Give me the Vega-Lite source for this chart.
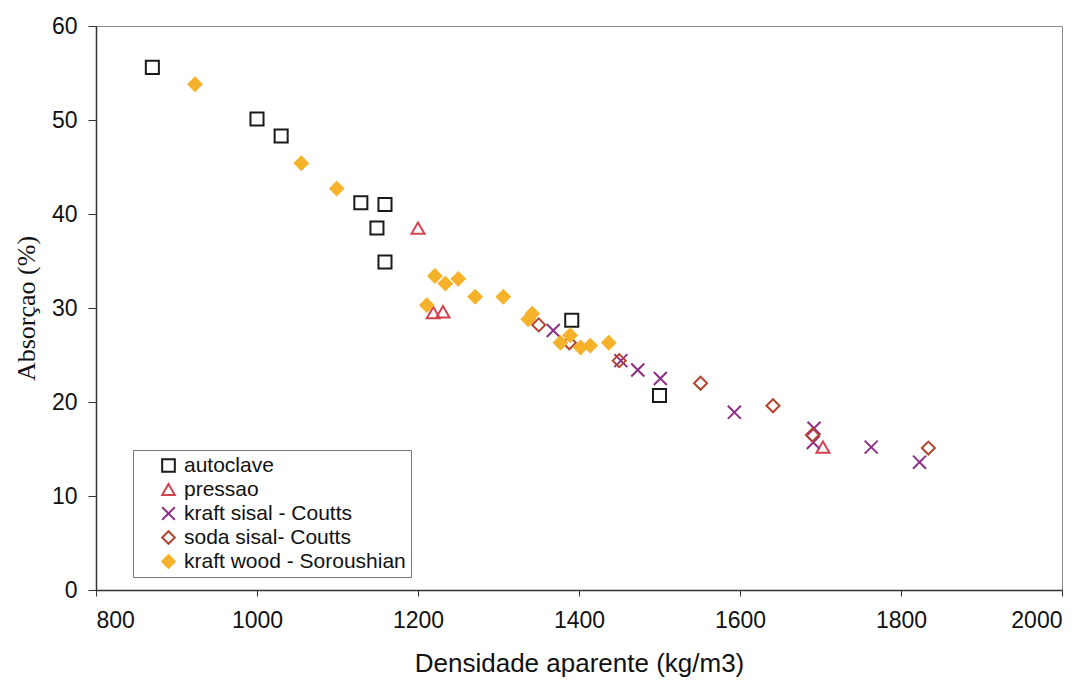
{
  "$schema": "https://vega.github.io/schema/vega-lite/v6.json",
  "width": 966,
  "height": 564,
  "autosize": {"type": "none"},
  "padding": {"left": 96, "top": 26, "right": 28, "bottom": 91},
  "background": "white",
  "config": {
    "view": {"stroke": "#8a8a8a", "strokeWidth": 1},
    "axis": {"grid": false, "domainColor": "#333", "tickColor": "#333", "labelColor": "#111", "titleColor": "#111", "labelFont": "Liberation Sans", "labelFontSize": 23, "domainWidth": 1.5, "format": "d"}
  },
  "data": {
    "values": [
      {"s": "autoclave", "d": 870, "a": 55.6},
      {"s": "autoclave", "d": 1000, "a": 50.1},
      {"s": "autoclave", "d": 1030, "a": 48.3},
      {"s": "autoclave", "d": 1129, "a": 41.2},
      {"s": "autoclave", "d": 1159, "a": 41.0},
      {"s": "autoclave", "d": 1149, "a": 38.5},
      {"s": "autoclave", "d": 1159, "a": 34.9},
      {"s": "autoclave", "d": 1391, "a": 28.7},
      {"s": "autoclave", "d": 1500, "a": 20.7},
      {"s": "pressao", "d": 1200, "a": 38.5},
      {"s": "pressao", "d": 1219, "a": 29.5},
      {"s": "pressao", "d": 1231, "a": 29.6},
      {"s": "pressao", "d": 1703, "a": 15.2},
      {"s": "kraft sisal - Coutts", "d": 1368, "a": 27.6},
      {"s": "kraft sisal - Coutts", "d": 1452, "a": 24.4},
      {"s": "kraft sisal - Coutts", "d": 1473, "a": 23.4},
      {"s": "kraft sisal - Coutts", "d": 1501, "a": 22.5},
      {"s": "kraft sisal - Coutts", "d": 1593, "a": 18.9},
      {"s": "kraft sisal - Coutts", "d": 1692, "a": 17.2},
      {"s": "kraft sisal - Coutts", "d": 1691, "a": 15.7},
      {"s": "kraft sisal - Coutts", "d": 1763, "a": 15.2},
      {"s": "kraft sisal - Coutts", "d": 1823, "a": 13.6},
      {"s": "soda sisal- Coutts", "d": 1350, "a": 28.2},
      {"s": "soda sisal- Coutts", "d": 1388, "a": 26.3},
      {"s": "soda sisal- Coutts", "d": 1450, "a": 24.4},
      {"s": "soda sisal- Coutts", "d": 1551, "a": 22.0},
      {"s": "soda sisal- Coutts", "d": 1641, "a": 19.6},
      {"s": "soda sisal- Coutts", "d": 1690, "a": 16.5},
      {"s": "soda sisal- Coutts", "d": 1834, "a": 15.1},
      {"s": "kraft wood - Soroushian", "d": 923, "a": 53.8},
      {"s": "kraft wood - Soroushian", "d": 1055, "a": 45.4},
      {"s": "kraft wood - Soroushian", "d": 1099, "a": 42.7},
      {"s": "kraft wood - Soroushian", "d": 1221, "a": 33.4},
      {"s": "kraft wood - Soroushian", "d": 1234, "a": 32.6},
      {"s": "kraft wood - Soroushian", "d": 1250, "a": 33.1},
      {"s": "kraft wood - Soroushian", "d": 1271, "a": 31.2},
      {"s": "kraft wood - Soroushian", "d": 1211, "a": 30.3},
      {"s": "kraft wood - Soroushian", "d": 1306, "a": 31.2},
      {"s": "kraft wood - Soroushian", "d": 1342, "a": 29.4},
      {"s": "kraft wood - Soroushian", "d": 1337, "a": 28.8},
      {"s": "kraft wood - Soroushian", "d": 1377, "a": 26.3},
      {"s": "kraft wood - Soroushian", "d": 1389, "a": 27.1},
      {"s": "kraft wood - Soroushian", "d": 1402, "a": 25.8},
      {"s": "kraft wood - Soroushian", "d": 1414, "a": 26.0},
      {"s": "kraft wood - Soroushian", "d": 1437, "a": 26.3}
    ]
  },
  "mark": {"type": "point", "strokeWidth": 2, "opacity": 1, "size": 170},
  "encoding": {
    "x": {
      "field": "d", "type": "quantitative",
      "scale": {"domain": [800, 2000], "nice": false, "zero": false},
      "axis": {"values": [800, 1000, 1200, 1400, 1600, 1800, 2000], "tickSize": 6, "labelPadding": 13, "title": "Densidade aparente (kg/m3)", "titleFont": "Liberation Sans", "titleFontSize": 26, "titleFontWeight": "normal", "titlePadding": 18}
    },
    "y": {
      "field": "a", "type": "quantitative",
      "scale": {"domain": [0, 60], "nice": false},
      "axis": {"values": [0, 10, 20, 30, 40, 50, 60], "tickSize": 8, "labelPadding": 11, "title": "Absorçao (%)", "titleFont": "Liberation Serif", "titleFontSize": 26, "titleFontWeight": "normal", "titlePadding": 12}
    },
    "shape": {
      "field": "s", "type": "nominal",
      "scale": {
        "domain": ["autoclave", "pressao", "kraft sisal - Coutts", "soda sisal- Coutts", "kraft wood - Soroushian"],
        "range": ["square", "triangle-up", "M-1,-1L1,1M-1,1L1,-1", "diamond", "diamond"]
      },
      "legend": {
        "title": null, "orient": "none", "legendX": 37, "legendY": 424,
        "strokeColor": "#777", "fillColor": "white", "padding": 5,
        "symbolOffset": 20, "labelOffset": 5, "labelFont": "Liberation Sans", "labelFontSize": 21, "labelColor": "#111", "labelLimit": 400,
        "rowPadding": 2, "symbolSize": 160, "symbolStrokeWidth": 2
      }
    },
    "stroke": {
      "field": "s", "type": "nominal",
      "scale": {
        "domain": ["autoclave", "pressao", "kraft sisal - Coutts", "soda sisal- Coutts", "kraft wood - Soroushian"],
        "range": ["#1a1a1a", "#d2424f", "#8e2f86", "#b4452f", "#f5b22a"]
      }
    },
    "fill": {
      "field": "s", "type": "nominal",
      "scale": {
        "domain": ["autoclave", "pressao", "kraft sisal - Coutts", "soda sisal- Coutts", "kraft wood - Soroushian"],
        "range": ["transparent", "transparent", "transparent", "transparent", "#f5b22a"]
      }
    }
  }
}
